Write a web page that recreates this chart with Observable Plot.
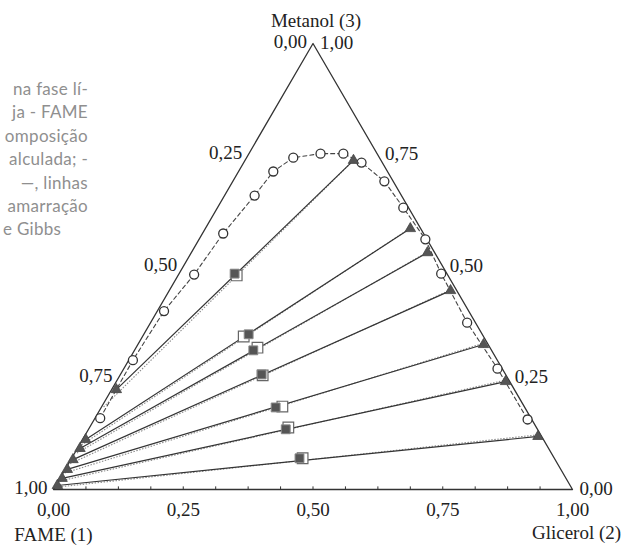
<!DOCTYPE html>
<html>
<head>
<meta charset="utf-8">
<script src="https://cdn.jsdelivr.net/npm/d3@7"></script>
<script src="https://cdn.jsdelivr.net/npm/@observablehq/plot@0.6"></script>
<style>
  body { margin: 0; background: #fff; }
  #wrap { position: relative; width: 625px; height: 547px; overflow: hidden; }
  #caption { position: absolute; left: 0; top: 0; width: 625px; height: 547px;
             font-family: Lato, "Open Sans", sans-serif; font-size: 17px; color: #8f8f8f; letter-spacing: 0.3px; }
  #caption div { position: absolute; white-space: nowrap; line-height: 23.4px; }
</style>
</head>
<body>
<div id="wrap">
  <div id="chart"></div>
  <div id="caption"></div>
</div>
<script>
// Ternary system FAME (1) – Glicerol (2) – Metanol (3); compositions as mole fractions x2, x3
// Binodal (solubility) curve points
const binodalX2 = [0.010, 0.008, 0.013, 0.030, 0.040, 0.058, 0.067, 0.090, 0.138, 0.182, 0.227, 0.292, 0.358, 0.436, 0.505, 0.610, 0.720, 0.835];
const binodalX3 = [0.160, 0.290, 0.400, 0.482, 0.574, 0.659, 0.713, 0.744, 0.753, 0.753, 0.733, 0.691, 0.632, 0.561, 0.484, 0.374, 0.271, 0.157];

// Experimental tie lines: FAME-rich end and glycerol-rich end
const tieLeftX2  = [0.009, 0.006, 0.005, 0.004, 0.004, 0.004, 0.003];
const tieLeftX3  = [0.224, 0.112, 0.092, 0.067, 0.045, 0.025, 0.009];
const tieRightX2 = [0.209, 0.395, 0.455, 0.542, 0.666, 0.750, 0.874];
const tieRightX3 = [0.738, 0.585, 0.531, 0.446, 0.325, 0.242, 0.119];

// Calculated tie lines
const calcLeftX2  = [0.004, 0.004, 0.004, 0.003, 0.003, 0.003, 0.002];
const calcLeftX3  = [0.185, 0.100, 0.082, 0.058, 0.037, 0.019, 0.005];
const calcRightX2 = [0.210, 0.396, 0.456, 0.543, 0.667, 0.751, 0.875];
const calcRightX3 = [0.740, 0.588, 0.534, 0.449, 0.329, 0.246, 0.123];

// Global (feed) compositions: experimental and calculated
const feedX2     = [0.107, 0.202, 0.229, 0.272, 0.336, 0.380, 0.439];
const feedX3     = [0.484, 0.348, 0.312, 0.258, 0.184, 0.135, 0.070];
const calcFeedX2 = [0.113, 0.195, 0.234, 0.275, 0.348, 0.383, 0.445];
const calcFeedX3 = [0.480, 0.343, 0.318, 0.256, 0.186, 0.139, 0.070];

// Axis ticks and labels
const tickValues = [0, 0.25, 0.5, 0.75, 1];
const tickLabels = ["0,00", "0,25", "0,50", "0,75", "1,00"];
const minorTicks = d3.range(1, 16).map(k => k / 16);
const vertexNames = ["FAME (1)", "Glicerol (2)", "Metanol (3)"];

// Caption text beside the diagram
const captionLines = ["na fase lí-", "ja - FAME", "omposição", "alculada; -", "—, linhas", "amarração", "e Gibbs"];

// ternary (x2, x3) -> plane
const pt = (x2, x3) => ({x: x2 + x3 / 2, y: x3});
const points = (a, b) => a.map((v, i) => pt(v, b[i]));
const segs = (l2, l3, r2, r3) => l2.map((v, i) => {
  const a = pt(v, l3[i]), b = pt(r2[i], r3[i]);
  return {x1: a.x, y1: a.y, x2: b.x, y2: b.y};
});

const frame = [pt(0, 0), pt(1, 0), pt(0, 1), pt(0, 0)];
const binodal = points(binodalX2, binodalX3);
const tieLines = segs(tieLeftX2, tieLeftX3, tieRightX2, tieRightX3);
const calcLines = segs(calcLeftX2, calcLeftX3, calcRightX2, calcRightX3);
const ends = [...points(tieLeftX2, tieLeftX3), ...points(tieRightX2, tieRightX3)];
const feed = points(feedX2, feedX3);
const calcFeed = points(calcFeedX2, calcFeedX3);

// Tick label positions on each edge
const baseLabels  = tickValues.map((v, i) => ({...pt(v, 0), text: tickLabels[i]}));          // x2 along the base
const rightLabels = tickValues.map((v, i) => ({...pt(1 - v, v), text: tickLabels[i]}));      // x3 along the right edge
const leftLabels  = tickValues.map((v, i) => ({...pt(0, 1 - v), text: tickLabels[i]}));      // x1 along the left edge
const baseTicks = minorTicks.map(v => ({x: v}));

const serif = "Liberation Serif, Times New Roman, serif";
const ink = "#222";
const fs = 19;

const chart = Plot.plot({
  width: 625,
  height: 547,
  marginLeft: 53,
  marginRight: 53,
  marginTop: 43,
  marginBottom: 58,
  x: {domain: [0, 1], axis: null},
  y: {domain: [0, 1], axis: null},
  marks: [
    Plot.line(frame, {x: "x", y: "y", stroke: "#333", strokeWidth: 1.3}),
    Plot.link(baseTicks, {x1: "x", x2: "x", y1: 0, y2: 0.007, stroke: "#333", strokeWidth: 1}),
    Plot.link(calcLines, {x1: "x1", y1: "y1", x2: "x2", y2: "y2", stroke: "#8c8c8c", strokeWidth: 1.1, strokeDasharray: "1.5,1.5"}),
    Plot.link(tieLines, {x1: "x1", y1: "y1", x2: "x2", y2: "y2", stroke: "#333", strokeWidth: 1.2}),
    Plot.line(binodal, {x: "x", y: "y", stroke: "#444", strokeWidth: 1.1, strokeDasharray: "4,3"}),
    Plot.dot(binodal, {x: "x", y: "y", r: 4.5, fill: "white", stroke: "#333", strokeWidth: 1.3}),
    Plot.dot(ends, {x: "x", y: "y", symbol: "triangle", r: 3.9, fill: "#555", stroke: "#444", strokeWidth: 0.8}),
    Plot.dot(calcFeed, {x: "x", y: "y", symbol: "square", r: 6, fill: "white", stroke: "#666", strokeWidth: 1.2}),
    Plot.dot(feed, {x: "x", y: "y", symbol: "square", r: 5, fill: "#555", stroke: "#888", strokeWidth: 1}),
    Plot.text(baseLabels, {x: "x", y: "y", text: "text", dy: 20, fontFamily: serif, fontSize: fs, fill: ink}),
    Plot.text(rightLabels, {x: "x", y: "y", text: "text", textAnchor: "start", dx: 7, dy: -1, fontFamily: serif, fontSize: fs, fill: ink}),
    Plot.text(leftLabels, {x: "x", y: "y", text: "text", textAnchor: "end", dx: -6, dy: -2, fontFamily: serif, fontSize: fs, fill: ink}),
    Plot.text([pt(0, 0)], {x: "x", y: "y", text: [vertexNames[0]], dy: 45, fontFamily: serif, fontSize: fs, fill: ink}),
    Plot.text([pt(1, 0)], {x: "x", y: "y", text: [vertexNames[1]], dx: 4, dy: 43, fontFamily: serif, fontSize: fs, fill: ink}),
    Plot.text([pt(0, 1)], {x: "x", y: "y", text: [vertexNames[2]], dx: 3, dy: -23, fontFamily: serif, fontSize: fs, fill: ink})
  ]
});
document.getElementById("chart").append(chart);

// Caption lines: justified paragraph, right edge beside the diagram
const cap = document.getElementById("caption");
captionLines.forEach((t, i) => {
  const d = document.createElement("div");
  d.textContent = t;
  d.style.top = (77 + i * 23.4) + "px";
  if (i === captionLines.length - 1) d.style.left = "3px";
  else d.style.right = (625 - 88) + "px";
  cap.append(d);
});
</script>
</body>
</html>
